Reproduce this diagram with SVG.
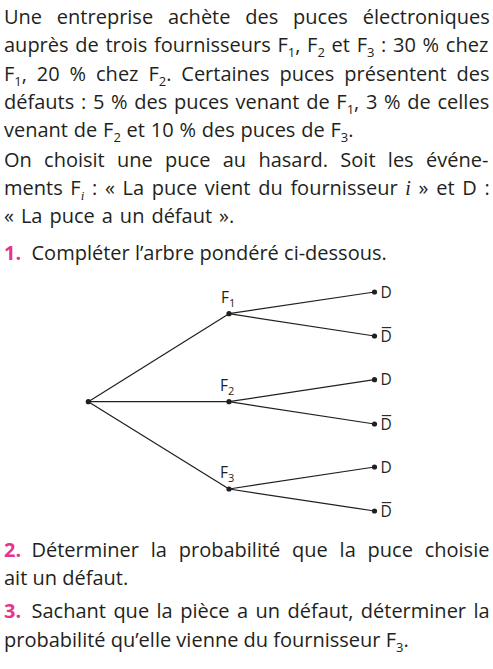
<svg xmlns="http://www.w3.org/2000/svg" width="493" height="669" viewBox="0 0 493 669">
<style>
text{font-family:"Open Sans","Noto Sans",sans-serif;fill:#231f20}
.t{font-size:20px}
.n{font-weight:bold;fill:#e6348c}
.sub{font-size:13px}
.it{font-family:"Liberation Serif",serif;font-style:italic}
.lbl{font-size:15.5px}
.lsub{font-size:11px}
.edge{stroke:#231f20;stroke-width:1.25;fill:none}
.bar{stroke:#231f20;stroke-width:1.1}
.dot{fill:#231f20}
</style>
<rect width="493" height="669" fill="#fff"/>
<g id="statement">
<text class="t" x="4" y="24" style="word-spacing:9.6px">Une entreprise achète des puces électroniques</text>
<text class="t" x="4" y="52.3" style="word-spacing:1.5px">auprès de trois fournisseurs F<tspan class="sub" dy="5">1</tspan><tspan dy="-5">, F</tspan><tspan class="sub" dy="5">2</tspan><tspan dy="-5"> et F</tspan><tspan class="sub" dy="5">3</tspan><tspan dy="-5"> : 30 % chez</tspan></text>
<text class="t" x="4" y="80.5" style="word-spacing:4.7px">F<tspan class="sub" dy="5">1</tspan><tspan dy="-5">, 20 % chez F</tspan><tspan class="sub" dy="5">2</tspan><tspan dy="-5">. Certaines puces présentent des</tspan></text>
<text class="t" x="4" y="108.7" style="word-spacing:1.5px">défauts : 5 % des puces venant de F<tspan class="sub" dy="5">1</tspan><tspan dy="-5">, 3 % de celles</tspan></text>
<text class="t" x="4" y="137" style="word-spacing:0.6px">venant de F<tspan class="sub" dy="5">2</tspan><tspan dy="-5"> et 10 % des puces de F</tspan><tspan class="sub" dy="5">3</tspan><tspan dy="-5">.</tspan></text>
<text class="t" x="4" y="166.5" style="word-spacing:7.1px">On choisit une puce au hasard. Soit les événe-</text>
<text class="t" x="4" y="194.7" style="word-spacing:2.5px">ments F<tspan class="sub it" dy="5">i</tspan><tspan dy="-5"> : « La puce vient du fournisseur </tspan><tspan class="it">i</tspan> » et D :</text>
<text class="t" x="4" y="223" style="word-spacing:1.8px">« La puce a un défaut ».</text>
</g>
<g id="q1">
<text class="t" x="4" y="260"><tspan class="n">1.</tspan><tspan x="31.5">Compléter l’arbre pondéré ci-dessous.</tspan></text>
</g>
<g id="connectors">
<line class="edge" x1="88.3" y1="401.7" x2="229" y2="313.7"/>
<line class="edge" x1="88.3" y1="401.7" x2="229" y2="401.7"/>
<line class="edge" x1="88.3" y1="401.7" x2="229" y2="489"/>
<line class="edge" x1="229" y1="313.7" x2="374.5" y2="292"/>
<line class="edge" x1="229" y1="313.7" x2="374.5" y2="336"/>
<line class="edge" x1="229" y1="401.7" x2="374.5" y2="379.7"/>
<line class="edge" x1="229" y1="401.7" x2="374.5" y2="424"/>
<line class="edge" x1="229" y1="489" x2="374.5" y2="467"/>
<line class="edge" x1="229" y1="489" x2="374.5" y2="511"/>
</g>
<g id="root"><circle class="dot" cx="88.3" cy="401.7" r="2.6"/></g>
<g id="F1"><circle class="dot" cx="229" cy="313.7" r="2.6"/><text class="lbl" x="221" y="302.5">F<tspan class="lsub" dy="4">1</tspan></text></g>
<g id="F2"><circle class="dot" cx="229" cy="401.7" r="2.6"/><text class="lbl" x="220" y="390.7">F<tspan class="lsub" dy="4">2</tspan></text></g>
<g id="F3"><circle class="dot" cx="229" cy="489" r="2.6"/><text class="lbl" x="220" y="478">F<tspan class="lsub" dy="4">3</tspan></text></g>
<g id="F1_D"><circle class="dot" cx="374.5" cy="292" r="2.6"/><text class="lbl" x="380.5" y="297.6">D</text></g>
<g id="F1_notD"><circle class="dot" cx="374.5" cy="336" r="2.6"/><text class="lbl" x="380.5" y="341.6">D</text><line class="bar" x1="381.8" y1="327.6" x2="391.2" y2="327.6"/></g>
<g id="F2_D"><circle class="dot" cx="374.5" cy="379.7" r="2.6"/><text class="lbl" x="380.5" y="385.3">D</text></g>
<g id="F2_notD"><circle class="dot" cx="374.5" cy="424" r="2.6"/><text class="lbl" x="380.5" y="429.6">D</text><line class="bar" x1="381.8" y1="415.6" x2="391.2" y2="415.6"/></g>
<g id="F3_D"><circle class="dot" cx="374.5" cy="467" r="2.6"/><text class="lbl" x="380.5" y="472.6">D</text></g>
<g id="F3_notD"><circle class="dot" cx="374.5" cy="511" r="2.6"/><text class="lbl" x="380.5" y="516.6">D</text><line class="bar" x1="381.8" y1="502.6" x2="391.2" y2="502.6"/></g>
<g id="q2">
<text class="t" x="4" y="556.5" style="word-spacing:6.6px"><tspan class="n">2.</tspan><tspan x="31.5">Déterminer la probabilité que la puce choisie</tspan></text>
<text class="t" x="4" y="585">ait un défaut.</text>
</g>
<g id="q3">
<text class="t" x="4" y="618.3" style="word-spacing:2.25px"><tspan class="n">3.</tspan><tspan x="31.5">Sachant que la pièce a un défaut, déterminer la</tspan></text>
<text class="t" x="4" y="647.3">probabilité qu’elle vienne du fournisseur F<tspan class="sub" dy="5">3</tspan><tspan dy="-5">.</tspan></text>
</g>
</svg>
